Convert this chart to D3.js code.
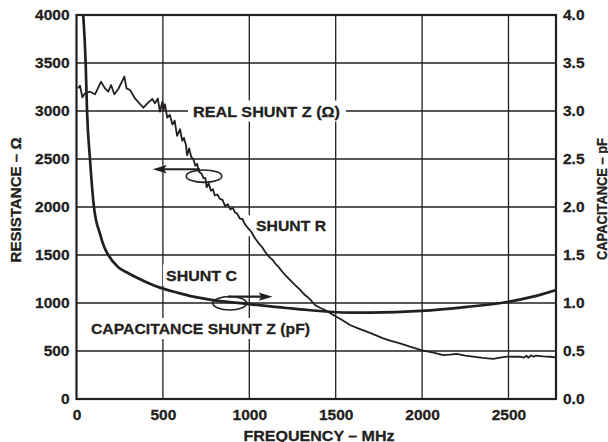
<!DOCTYPE html>
<html><head><meta charset="utf-8">
<script src="https://cdn.jsdelivr.net/npm/d3@7"></script>
<style>
body{margin:0;background:#fff}
svg{display:block}
text{font-family:"Liberation Sans",Arial,Helvetica,sans-serif;font-weight:bold;fill:#231f20;stroke:#231f20;stroke-width:0.3px}
</style>
</head><body>
<svg id="chart" width="608" height="442"></svg>
<script>
// ---- data ----
const freqTicks = [0, 500, 1000, 1500, 2000, 2500];
const resTicks = [0, 500, 1000, 1500, 2000, 2500, 3000, 3500, 4000];
const capTicks = [0, 0.5, 1.0, 1.5, 2.0, 2.5, 3.0, 3.5, 4.0];

// SHUNT R : [frequency MHz, resistance ohm]
const shuntR = [
  [10,3236],[20,3264],[34,3143],[49,3185],[78,3201],[107,3174],[142,3305],[165,3236],
  [184,3201],[200,3271],[219,3174],[242,3229],[277,3358],[290,3236],[310,3219],[338,3132],
  [387,3034],[416,3090],[439,3125],[454,3080],[470,3132],[483,2993],[497,3097],[503,3010],
  [512,3070],[525,2930],[540,2960],[555,2860],[568,2900],[582,2740],[599,2810],[612,2690],
  [622,2720],[634,2640],[640,2540],[652,2610],[664,2520],[676,2500],[688,2430],[698,2450],
  [708,2370],[724,2345],[735,2300],[746,2300],[753,2205],[765,2245],[778,2170],[790,2185],
  [800,2120],[815,2130],[830,2085],[845,2075],[860,2010],[875,2030],[890,1975],[905,1990],
  [917,1945],[930,1930],[945,1880],[960,1875],[975,1820],[994,1778],[1010,1745],[1033,1674],
  [1060,1610],[1075,1580],[1091,1534],[1120,1470],[1135,1450],[1149,1413],[1165,1385],[1180,1350],
  [1207,1292],[1235,1240],[1264,1188],[1293,1140],[1322,1083],[1351,1040],[1380,979],
  [1409,950],[1438,927],[1467,895],[1486,875],[1530,830],[1583,771],[1630,735],[1680,701],
  [1730,665],[1775,632],[1820,605],[1872,580],[1930,545],[1994,510],[2065,483],[2123,458],
  [2160,462],[2200,469],[2250,452],[2296,441],[2350,428],[2412,417],[2450,430],[2490,441],
  [2530,440],[2567,441],[2590,432],[2605,450],[2615,430],[2630,455],[2644,440],[2660,452],
  [2700,445],[2740,440],[2775,434]
];

// SHUNT C : [frequency MHz, capacitance pF]
const shuntC = [
  [39,4.0],[53,3.5],[61,3.0],[78,2.5],[101,2.0],[136,1.72],[161,1.58],[184,1.5],
  [240,1.375],[300,1.31],[377,1.24],[483,1.16],[580,1.11],[676,1.066],[792,1.03],
  [987,0.99],[1293,0.934],[1582,0.90],[1700,0.90],[1994,0.917],[2260,0.96],
  [2491,1.01],[2642,1.066],[2775,1.135]
];

// annotation labels: text, frequency, resistance (centre line), width px, bg padding [l,r]
const labels = [
  {t:"REAL SHUNT Z (\u03A9)", f:674, r:3000, w:147, pad:[5,6]},
  {t:"SHUNT R", f:1039, r:1805, w:70, pad:[10,6]},
  {t:"SHUNT C", f:518, r:1292, w:71, pad:[3,3]},
  {t:"CAPACITANCE SHUNT Z (pF)", f:84, r:734, w:219, pad:[5,5]}
];
// ellipses: centre freq, centre resistance, radius in MHz, radius in ohm
const ellipses = [
  {f:738, r:2321, rf:103, rr:65},
  {f:887, r:997, rf:98, rr:70}
];
// arrows: from / to in [MHz, ohm]
const arrows = [
  {from:[715,2393], to:[441,2393]},
  {from:[877,1066], to:[1135,1066]}
];

// ---- layout ----
const L = 76.5, R = 556, T = 15, B = 399;
const ink = "#231f20";
const fs = 15.5;

const svg = d3.select("#chart");
const x = d3.scaleLinear().domain([0, 2775]).range([L, R]);
const yR = d3.scaleLinear().domain([0, 4000]).range([B, T]);
const yC = d3.scaleLinear().domain([0, 4]).range([B, T]);

// gridlines
const grid = svg.append("g").attr("stroke", ink).attr("stroke-width", 1.3);
grid.selectAll("line.h").data(resTicks.filter(d => d > 0 && d < 4000)).join("line")
  .attr("x1", L).attr("x2", R).attr("y1", d => yR(d)).attr("y2", d => yR(d));
grid.selectAll("line.v").data(freqTicks.filter(d => d > 0)).join("line")
  .attr("y1", T).attr("y2", B).attr("x1", d => x(d)).attr("x2", d => x(d));

// label backgrounds + labels
const lab = svg.append("g");
labels.forEach(d => {
  const x0 = x(d.f), yc = yR(d.r);
  lab.append("rect").attr("x", x0 - d.pad[0]).attr("y", yc - 10.5)
    .attr("width", d.w + d.pad[0] + d.pad[1]).attr("height", 21).attr("fill", "#fff");
  lab.append("text").attr("x", x0).attr("y", yc + 0.358 * fs)
    .attr("font-size", fs).attr("textLength", d.w).attr("lengthAdjust", "spacingAndGlyphs")
    .text(d.t);
});

// curves
svg.append("clipPath").attr("id", "clip").append("rect")
  .attr("x", L).attr("y", T).attr("width", R - L).attr("height", B - T);
const plot = svg.append("g").attr("clip-path", "url(#clip)");
plot.append("path").datum(shuntR)
  .attr("fill", "none").attr("stroke", ink).attr("stroke-width", 1.8).attr("stroke-linejoin", "round")
  .attr("d", d3.line().x(d => x(d[0])).y(d => yR(d[1])));
plot.append("path").datum(shuntC)
  .attr("fill", "none").attr("stroke", ink).attr("stroke-width", 2.7).attr("stroke-linejoin", "round")
  .attr("d", d3.line().curve(d3.curveMonotoneX).x(d => x(d[0])).y(d => yC(d[1])));

// ellipses
svg.append("g").selectAll("ellipse").data(ellipses).join("ellipse")
  .attr("cx", d => x(d.f)).attr("cy", d => yR(d.r))
  .attr("rx", d => x(d.f + d.rf) - x(d.f)).attr("ry", d => yR(d.r) - yR(d.r + d.rr))
  .attr("fill", "none").attr("stroke", ink).attr("stroke-width", 1.6);

// arrows
const ag = svg.append("g");
arrows.forEach(a => {
  const x1 = x(a.from[0]), y1 = yR(a.from[1]), x2 = x(a.to[0]), y2 = yR(a.to[1]);
  const dir = Math.sign(x2 - x1), hl = 14, hw = 4.2;
  ag.append("line").attr("x1", x1).attr("y1", y1).attr("x2", x2 - dir * hl * 0.6).attr("y2", y2)
    .attr("stroke", ink).attr("stroke-width", 2.2);
  ag.append("path").attr("d", `M${x2},${y2}L${x2 - dir*hl},${y2 - hw}L${x2 - dir*hl*0.8},${y2}L${x2 - dir*hl},${y2 + hw}Z`)
    .attr("fill", ink);
});

// frame
svg.append("rect").attr("x", L).attr("y", T).attr("width", R - L).attr("height", B - T)
  .attr("fill", "none").attr("stroke", ink).attr("stroke-width", 2.2);

// axes (labels only)
const axL = svg.append("g").attr("transform", `translate(${L},0)`)
  .call(d3.axisLeft(yR).tickValues(resTicks).tickFormat(d3.format("d")).tickSize(0).tickPadding(7));
const axRt = svg.append("g").attr("transform", `translate(${R},0)`)
  .call(d3.axisRight(yC).tickValues(capTicks).tickFormat(d3.format(".1f")).tickSize(0).tickPadding(7));
const axB = svg.append("g").attr("transform", `translate(0,${B})`)
  .call(d3.axisBottom(x).tickValues(freqTicks).tickFormat(d3.format("d")).tickSize(0).tickPadding(10));
[axL, axRt, axB].forEach(g => {
  g.select(".domain").remove();
  g.attr("font-family", null).attr("font-size", null);
  g.selectAll("text").attr("fill", ink)
    .style("font-size", fs + "px")
    .style("font-family", '"Liberation Sans",Arial,sans-serif').style("font-weight", "bold");
});

// axis titles
svg.append("text").attr("x", 319).attr("y", 440.5).attr("text-anchor", "middle")
  .attr("font-size", fs).attr("textLength", 151).attr("lengthAdjust", "spacingAndGlyphs")
  .text("FREQUENCY \u2013 MHz");
svg.append("text").attr("transform", "translate(20.5,200) rotate(-90)").attr("text-anchor", "middle")
  .attr("font-size", fs).attr("textLength", 125).attr("lengthAdjust", "spacingAndGlyphs")
  .text("RESISTANCE \u2013 \u03A9");
svg.append("text").attr("transform", "translate(606.5,199) rotate(-90)").attr("text-anchor", "middle")
  .attr("font-size", fs).attr("textLength", 122).attr("lengthAdjust", "spacingAndGlyphs")
  .text("CAPACITANCE \u2013 pF");
</script>
</body></html>
